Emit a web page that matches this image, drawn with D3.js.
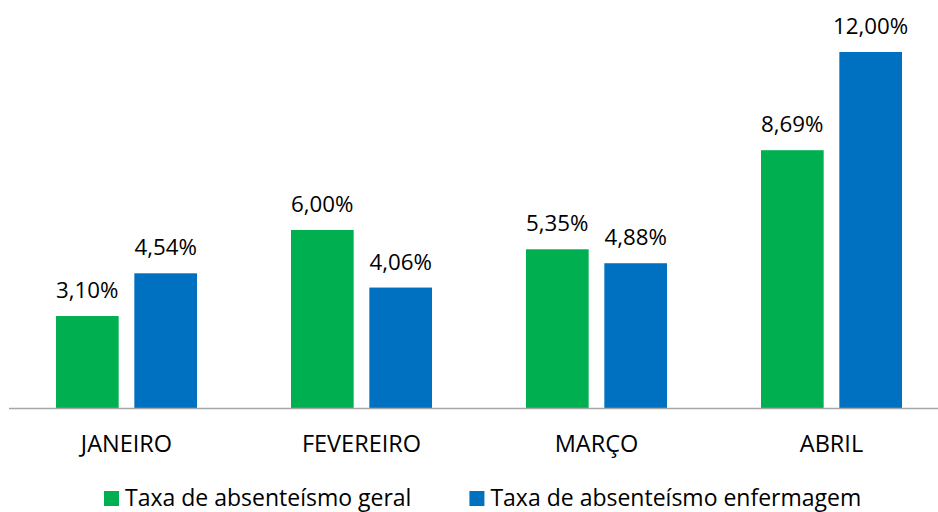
<!DOCTYPE html>
<html><head><meta charset="utf-8">
<script src="https://cdn.jsdelivr.net/npm/d3@7"></script>
<style>body{margin:0;background:#fff}svg{display:block}text{font-family:"Open Sans",sans-serif;fill:#000}</style>
</head><body><svg id="c" width="938" height="512"></svg>
<script>
const categories = ["JANEIRO","FEVEREIRO","MARÇO","ABRIL"];
const seriesNames = ["Taxa de absenteísmo geral","Taxa de absenteísmo enfermagem"];
const geral = [3.10, 6.00, 5.35, 8.69];
const enfermagem = [4.54, 4.06, 4.88, 12.00];
const colors = ["#00B050","#0070C0"];

const svg = d3.select("#c");
const baseY = 408, topY = 52;
const x0 = d3.scaleBand().domain(categories).range([9, 949]).padding(0);
const x1 = d3.scaleBand().domain([0,1]).range([47, 188]).paddingInner(0.2).paddingOuter(0);
const y = d3.scaleLinear().domain([0, 12]).range([baseY, topY]);
const fmt = v => v.toFixed(2).replace(".", ",") + "%";

const data = categories.map((c,i)=>({c, vals:[geral[i], enfermagem[i]]}));
const g = svg.selectAll("g.cat").data(data).join("g").attr("class","cat")
  .attr("transform", d=>`translate(${x0(d.c)},0)`);
g.selectAll("rect").data(d=>d.vals.map((v,k)=>({v,k}))).join("rect")
  .attr("x", d=>x1(d.k)).attr("width", x1.bandwidth())
  .attr("y", d=>y(d.v)).attr("height", d=>baseY-y(d.v))
  .attr("fill", d=>colors[d.k]);
g.selectAll("text.val").data(d=>d.vals.map((v,k)=>({v,k}))).join("text").attr("class","val")
  .attr("x", d=>x1(d.k)+x1.bandwidth()/2).attr("y", d=>y(d.v)-18)
  .attr("text-anchor","middle").style("font-size","22.3px").text(d=>fmt(d.v));

const axis = svg.append("g").attr("transform",`translate(0,${baseY})`)
  .call(d3.axisBottom(x0).tickSize(0).tickPadding(0));
axis.select(".domain").attr("stroke","#A6A6A6").attr("stroke-width",1.5).attr("d","M9,0.5H938");
axis.selectAll("text").attr("y",44).attr("dy",0).style("font-size","23.5px")
  .style("font-family",'"Open Sans",sans-serif').attr("fill","#000");

const leg = svg.append("g");
let lx = 104;
seriesNames.forEach((n,k)=>{
  leg.append("rect").attr("x",lx).attr("y",491).attr("width",15).attr("height",15).attr("fill",colors[k]);
  const t = leg.append("text").attr("x",lx+21).attr("y",506).style("font-size","23px").text(n);
  lx += 21 + t.node().getComputedTextLength() + 58;
});
</script></body></html>
